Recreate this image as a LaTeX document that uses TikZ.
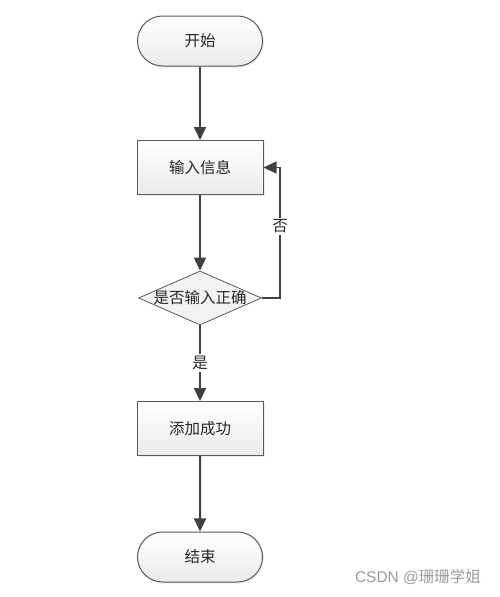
\documentclass[tikz,border=0pt]{standalone}
\usepackage{fontspec}
\newfontfamily\cjk{Noto Sans CJK SC}
\usetikzlibrary{arrows.meta,shapes.misc,shapes.geometric,shadows}

\begin{document}
\begin{tikzpicture}[x=1pt,y=-1pt,
        every node/.style={font=\cjk\fontsize{15.5}{18}\selectfont, text=black!85},
        terminal/.style={rounded rectangle, draw=black!65, line width=1pt, top color=white, bottom color=black!8, minimum width=125, minimum height=50, inner sep=0pt, drop shadow={opacity=0.15, shadow xshift=1.5pt, shadow yshift=-1.5pt}},
        stepbox/.style={rectangle, draw=black!65, line width=1pt, top color=white, bottom color=black!8, minimum width=126, minimum height=54, inner sep=0pt, drop shadow={opacity=0.15, shadow xshift=1.5pt, shadow yshift=-1.5pt}},
        decision/.style={diamond, draw=black!65, line width=0.8pt, fill=black!5, minimum width=123, minimum height=54, inner sep=0pt},
        flow/.style={draw=black!75, line width=2pt, -{Triangle[width=12pt,length=13pt]}},
        back/.style={draw=black!75, line width=1.5pt, -{Triangle[width=12pt,length=13pt]}},
        tag/.style={fill=white, inner sep=2pt}]
        \useasboundingbox (0,0) rectangle (499,597);
        \node[terminal] (start) at (200,41) {开始};
        \node[stepbox] (input) at (200,167.5) {输入信息};
        \node[decision, label={center:是否输入正确}] (check) at (200,298) {};
        \node[stepbox] (add) at (200,428.5) {添加成功};
        \node[terminal] (stop) at (200,557) {结束};
        \coordinate (turn1) at (280,298);
        \coordinate (turn2) at (280,167.5);
        % arrows
        \draw[flow] (start) -- (input);
        \draw[flow] (input) -- (check);
        \draw[flow] (check) -- node[tag]{是} (add);
        \draw[flow] (add) -- (stop);
        \draw[back] (check.east) -- (turn1) -- node[tag, pos=0.55]{否} (turn2) -- (input.east);
        % watermark
        \node[text=black!40, font=\fontspec{Liberation Sans}\fontsize{15.5}{18}\selectfont] (mark) at (418,577) {CSDN @{\cjk 珊珊学姐}};
\end{tikzpicture}
\end{document}
